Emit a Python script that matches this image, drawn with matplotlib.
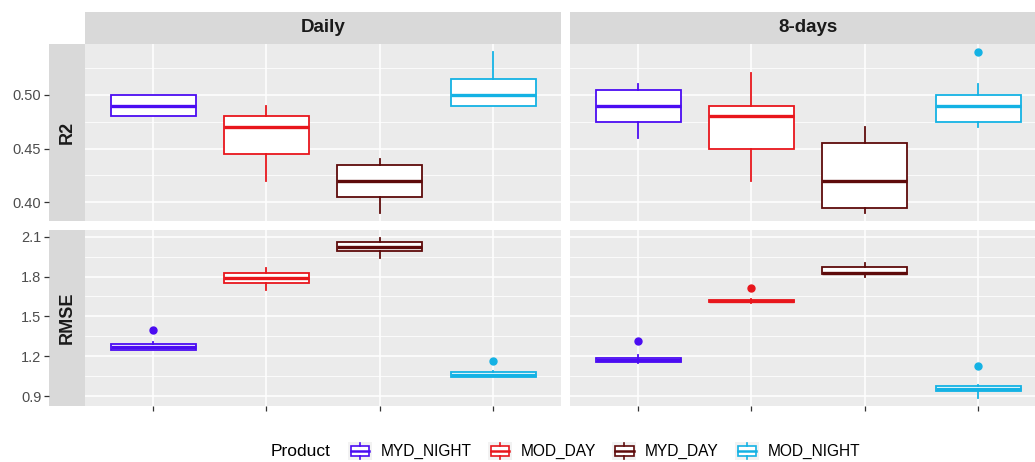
import matplotlib
matplotlib.use("Agg")
import matplotlib.pyplot as plt
from matplotlib.patches import Rectangle
from matplotlib.lines import Line2D
from matplotlib.legend_handler import HandlerBase

plt.rcParams["font.family"] = ["Liberation Sans", "DejaVu Sans"]

products = ["MYD_NIGHT", "MOD_DAY", "MYD_DAY", "MOD_NIGHT"]
colors = ["#4B0CF2", "#E8161C", "#5E0B0B", "#14B2E4"]
facets = ["Daily", "8-days"]
metrics = ["R2", "RMSE"]

# boxplot statistics: whisker low, q1, median, q3, whisker high, outliers
r2_daily_lo = [0.48, 0.42, 0.39, 0.49]
r2_daily_q1 = [0.48, 0.445, 0.405, 0.49]
r2_daily_med = [0.49, 0.47, 0.42, 0.50]
r2_daily_q3 = [0.50, 0.48, 0.435, 0.515]
r2_daily_hi = [0.50, 0.49, 0.44, 0.54]
r2_daily_out = [[], [], [], []]

r2_8d_lo = [0.46, 0.42, 0.39, 0.47]
r2_8d_q1 = [0.475, 0.45, 0.395, 0.475]
r2_8d_med = [0.49, 0.48, 0.42, 0.49]
r2_8d_q3 = [0.505, 0.49, 0.455, 0.50]
r2_8d_hi = [0.51, 0.52, 0.47, 0.51]
r2_8d_out = [[], [], [], [0.54]]

rmse_daily_lo = [1.245, 1.70, 1.94, 1.04]
rmse_daily_q1 = [1.25, 1.75, 1.99, 1.045]
rmse_daily_med = [1.27, 1.79, 2.025, 1.06]
rmse_daily_q3 = [1.29, 1.83, 2.06, 1.08]
rmse_daily_hi = [1.31, 1.865, 2.09, 1.085]
rmse_daily_out = [[1.40], [], [], [1.165]]

rmse_8d_lo = [1.15, 1.60, 1.80, 0.885]
rmse_8d_q1 = [1.155, 1.605, 1.82, 0.935]
rmse_8d_med = [1.17, 1.615, 1.825, 0.955]
rmse_8d_q3 = [1.19, 1.625, 1.87, 0.975]
rmse_8d_hi = [1.21, 1.63, 1.90, 0.985]
rmse_8d_out = [[1.317], [1.71], [], [1.127]]

r2_ticks = [0.40, 0.45, 0.50]
rmse_ticks = [0.9, 1.2, 1.5, 1.8, 2.1]

data = {
    ("R2", "Daily"): (r2_daily_lo, r2_daily_q1, r2_daily_med, r2_daily_q3, r2_daily_hi, r2_daily_out),
    ("R2", "8-days"): (r2_8d_lo, r2_8d_q1, r2_8d_med, r2_8d_q3, r2_8d_hi, r2_8d_out),
    ("RMSE", "Daily"): (rmse_daily_lo, rmse_daily_q1, rmse_daily_med, rmse_daily_q3, rmse_daily_hi, rmse_daily_out),
    ("RMSE", "8-days"): (rmse_8d_lo, rmse_8d_q1, rmse_8d_med, rmse_8d_q3, rmse_8d_hi, rmse_8d_out),
}
ticks = {"R2": (r2_ticks, "{:.2f}"), "RMSE": (rmse_ticks, "{:.1f}")}

W, H = 1035, 462
fig = plt.figure(figsize=(W / 100, H / 100), dpi=100)
fig.patch.set_facecolor("white")


def px_axes(x0, y0, x1, y1):
    # pixel box (top-left origin) -> figure axes
    return fig.add_axes([x0 / W, 1 - y1 / H, (x1 - x0) / W, (y1 - y0) / H])


col_x = [(85, 561), (570, 1046)]   # right panel is cut by the figure edge, as in the source
row_y = [(44, 221), (230, 406)]


def ylims(metric):
    vals = []
    for f in facets:
        lo, q1, med, q3, hi, out = data[(metric, f)]
        vals += lo + hi + [v for o in out for v in o]
    a, b = min(vals), max(vals)
    e = (b - a) * 0.05
    return a - e, b + e


for r, metric in enumerate(metrics):
    y0, y1 = row_y[r]
    lim = ylims(metric)
    tk, fmt = ticks[metric]
    step = tk[1] - tk[0]
    minor = [tk[0] - step / 2] + [t + step / 2 for t in tk]

    # row strip on the left, carries the y ticks
    sax = px_axes(49, y0, 85, y1)
    sax.set_facecolor("#D9D9D9")
    sax.set_ylim(lim)
    sax.set_xticks([])
    sax.set_yticks(tk)
    sax.set_yticklabels([fmt.format(t) for t in tk])
    sax.tick_params(axis="y", length=3.5, width=0.9, color="#333333",
                    labelcolor="#4D4D4D", labelsize=10.5, pad=2)
    for s in sax.spines.values():
        s.set_visible(False)
    sax.text(0.5, 0.5, metric, rotation=90, ha="center", va="center",
             fontsize=13, fontweight="bold", color="#1A1A1A", transform=sax.transAxes)

    for c, facet in enumerate(facets):
        x0, x1 = col_x[c]
        ax = px_axes(x0, y0, x1, y1)
        ax.set_facecolor("#EBEBEB")
        ax.set_xlim(0.4, 4.6)
        ax.set_ylim(lim)
        ax.set_yticks(tk)
        ax.set_yticks([m for m in minor if lim[0] <= m <= lim[1]], minor=True)
        ax.set_xticks([1, 2, 3, 4])
        ax.grid(True, which="major", color="white", lw=1.1)
        ax.grid(True, which="minor", axis="y", color="white", lw=0.55)
        ax.set_axisbelow(True)
        ax.tick_params(axis="y", which="both", length=0, labelleft=False)
        if r == 1:
            ax.tick_params(axis="x", length=3.5, width=0.9, color="#333333", labelbottom=False)
        else:
            ax.tick_params(axis="x", length=0, labelbottom=False)
        for s in ax.spines.values():
            s.set_visible(False)

        lo, q1, med, q3, hi, out = data[(metric, facet)]
        for i, p in enumerate(products):
            st = [{"whislo": lo[i], "q1": q1[i], "med": med[i], "q3": q3[i],
                   "whishi": hi[i], "fliers": out[i]}]
            col = colors[i]
            ax.bxp(st, positions=[i + 1], widths=0.75, patch_artist=True,
                   showcaps=False, manage_ticks=False,
                   boxprops=dict(facecolor="white", edgecolor=col, lw=1.3),
                   medianprops=dict(color=col, lw=2.4, solid_capstyle="butt"),
                   whiskerprops=dict(color=col, lw=1.3),
                   flierprops=dict(marker="o", markerfacecolor=col, markeredgecolor=col,
                                   markersize=5, linestyle="none"))

        if r == 0:
            tax = px_axes(x0, 12, x1, 44)
            tax.set_facecolor("#D9D9D9")
            tax.set_xticks([])
            tax.set_yticks([])
            for s in tax.spines.values():
                s.set_visible(False)
            tax.text(0.5, 0.5, facet, ha="center", va="center", fontsize=13.5,
                     fontweight="bold", color="#1A1A1A", transform=tax.transAxes)


class BoxKey(HandlerBase):
    def create_artists(self, legend, orig_handle, xdescent, ydescent, width, height, fontsize, trans):
        col = orig_handle.get_edgecolor()
        x, y = -xdescent, -ydescent
        bg = Rectangle((x, y), width, height, fc="#F2F2F2", ec="none", transform=trans)
        box = Rectangle((x + width * 0.12, y + height * 0.25), width * 0.76, height * 0.5,
                        fc="white", ec=col, lw=1.2, transform=trans)
        med = Line2D([x + width * 0.12, x + width * 0.88], [y + height * 0.5] * 2,
                     color=col, lw=1.8, transform=trans)
        w1 = Line2D([x + width / 2] * 2, [y + height * 0.75, y + height * 0.95],
                    color=col, lw=1.2, transform=trans)
        w2 = Line2D([x + width / 2] * 2, [y + height * 0.05, y + height * 0.25],
                    color=col, lw=1.2, transform=trans)
        return [bg, box, med, w1, w2]


handles = [Rectangle((0, 0), 1, 1, fc="white", ec=c) for c in colors]
fig.text(271 / W, 1 - 451 / H, "Product", ha="left", va="center", fontsize=12.5, color="black")
fig.legend(handles, products, handler_map={Rectangle: BoxKey()},
           loc="center left", bbox_to_anchor=(348 / W, 1 - 451 / H), ncol=4,
           frameon=False, fontsize=11.2, handlelength=1.55, handleheight=1.45,
           handletextpad=0.55, columnspacing=1.05, borderpad=0, borderaxespad=0)

fig.savefig("out.png", dpi=100)
